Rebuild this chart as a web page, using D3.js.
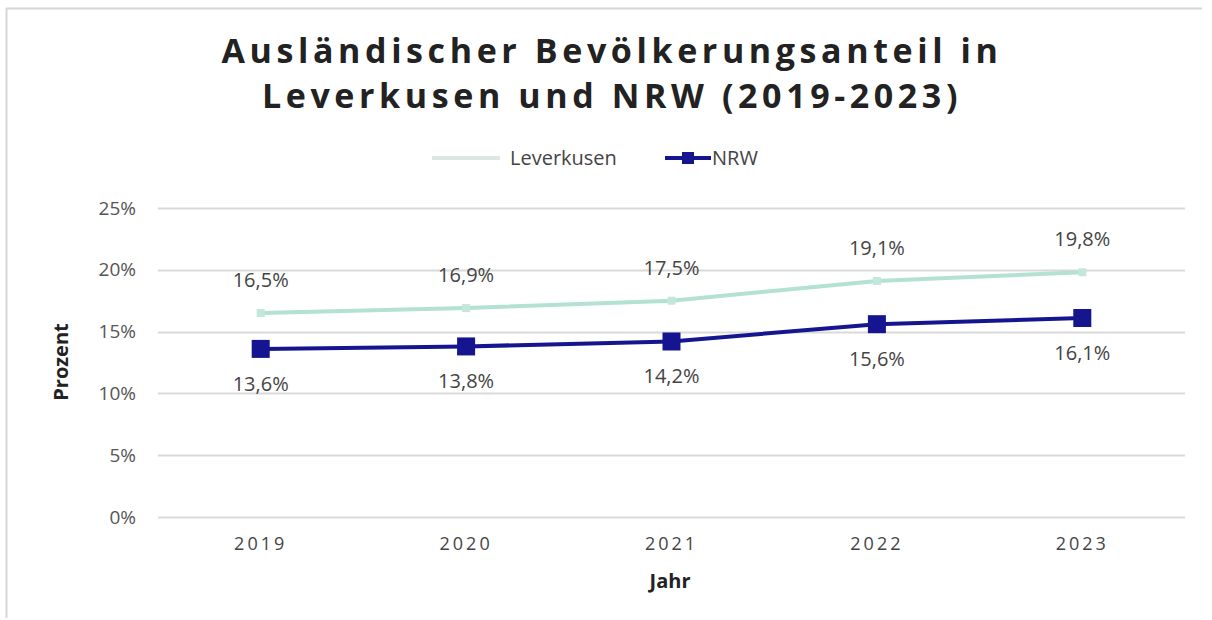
<!DOCTYPE html>
<html>
<head>
<meta charset="utf-8">
<script src="https://cdn.jsdelivr.net/npm/d3@7"></script>
<style>
  body { margin: 0; background: #fff; }
  svg { display: block; font-family: "Open Sans", "DejaVu Sans", sans-serif; }
</style>
</head>
<body>
<svg id="chart"></svg>
<script>
// data
var years = ['2019', '2020', '2021', '2022', '2023'];
var leverkusen = [16.5, 16.9, 17.5, 19.1, 19.8];
var nrw = [13.6, 13.8, 14.2, 15.6, 16.1];
var yTicks = [0, 5, 10, 15, 20, 25];
var titleLines = ['Ausländischer Bevölkerungsanteil in', 'Leverkusen und NRW (2019-2023)'];

var width = 1212, height = 620;
var margin = {top: 208, right: 27, bottom: 103, left: 158};
var chartW = width - margin.left - margin.right;
var chartH = height - margin.top - margin.bottom;

var colLev = '#b3e2d1', colNrw = '#15168f';

var svg = d3.select('#chart').attr('width', width).attr('height', height);

// frame
svg.append('line').attr('x1', 6).attr('x2', 1202).attr('y1', 8.5).attr('y2', 8.5)
  .style('stroke', '#d6d6d6').style('stroke-width', 2);
svg.append('line').attr('x1', 6.5).attr('x2', 6.5).attr('y1', 8).attr('y2', 618)
  .style('stroke', '#d6d6d6').style('stroke-width', 2);

// title
svg.append('g').selectAll('text').data(titleLines).enter().append('text')
  .attr('x', 612).attr('y', function(d, i){ return 63 + i * 45; })
  .attr('text-anchor', 'middle')
  .style('font-size', '34px').style('font-weight', 700)
  .style('letter-spacing', '4.6px').style('fill', '#222')
  .text(function(d){ return d; });

var x = d3.scaleBand().domain(years).range([0, chartW]);
var y = d3.scaleLinear().domain([0, 25]).range([chartH, 0]);

var g = svg.append('g').attr('transform', 'translate(' + margin.left + ',' + margin.top + ')');

// grid
g.append('g').selectAll('line').data(yTicks).enter().append('line')
  .attr('x1', 0).attr('x2', chartW)
  .attr('y1', function(d){ return Math.round(y(d)) + 0.5; })
  .attr('y2', function(d){ return Math.round(y(d)) + 0.5; })
  .style('stroke', '#d9d9d9').style('stroke-width', 2);

// y axis
var axisY = d3.axisLeft(y).tickValues(yTicks).tickSize(0).tickPadding(22)
  .tickFormat(function(d){ return d + '%'; });
g.append('g').call(axisY)
  .call(function(s){ s.select('.domain').remove(); })
  .selectAll('text').style('font-size', '19px').style('fill', '#555')
  .style('font-family', '"Open Sans", sans-serif');

// x axis
var axisX = d3.axisBottom(x).tickSize(0).tickPadding(20);
g.append('g').attr('transform', 'translate(0,' + chartH + ')').call(axisX)
  .call(function(s){ s.select('.domain').remove(); })
  .selectAll('text').style('font-size', '18px').style('fill', '#444')
  .style('letter-spacing', '3px')
  .style('font-family', '"Open Sans", sans-serif');

// axis titles
svg.append('text').attr('x', 670).attr('y', 588).attr('text-anchor', 'middle')
  .style('font-size', '20px').style('font-weight', 700).style('fill', '#222')
  .text('Jahr');
svg.append('text').attr('transform', 'translate(68,362) rotate(-90)')
  .attr('text-anchor', 'middle')
  .style('font-size', '20px').style('font-weight', 700).style('fill', '#222')
  .text('Prozent');

var cx = function(i){ return x(years[i]) + x.bandwidth() / 2; };
var line = d3.line().x(function(d, i){ return cx(i); }).y(function(d){ return y(d); });

// Leverkusen
g.append('path').datum(leverkusen).attr('d', line)
  .style('fill', 'none').style('stroke', colLev).style('stroke-width', 4);
g.append('g').selectAll('rect').data(leverkusen).enter().append('rect')
  .attr('x', function(d, i){ return cx(i) - 4; }).attr('y', function(d){ return y(d) - 4; })
  .attr('width', 8).attr('height', 8).style('fill', '#c3e7da');
g.append('g').selectAll('text').data(leverkusen).enter().append('text')
  .attr('x', function(d, i){ return cx(i); }).attr('y', function(d){ return y(d) - 26; })
  .attr('text-anchor', 'middle').style('font-size', '20px').style('fill', '#444')
  .text(function(d){ return d.toFixed(1).replace('.', ',') + '%'; });

// NRW
g.append('path').datum(nrw).attr('d', line)
  .style('fill', 'none').style('stroke', colNrw).style('stroke-width', 4);
g.append('g').selectAll('rect').data(nrw).enter().append('rect')
  .attr('x', function(d, i){ return cx(i) - 9; }).attr('y', function(d){ return y(d) - 9; })
  .attr('width', 18).attr('height', 18).style('fill', colNrw);
g.append('g').selectAll('text').data(nrw).enter().append('text')
  .attr('x', function(d, i){ return cx(i); }).attr('y', function(d){ return y(d) + 42; })
  .attr('text-anchor', 'middle').style('font-size', '20px').style('fill', '#444')
  .text(function(d){ return d.toFixed(1).replace('.', ',') + '%'; });

// legend
var leg = svg.append('g');
leg.append('line').attr('x1', 432).attr('x2', 500).attr('y1', 158).attr('y2', 158)
  .style('stroke', '#dde8e4').style('stroke-width', 4);
leg.append('text').attr('x', 510).attr('y', 165).style('font-size', '20px').style('fill', '#444')
  .text('Leverkusen');
leg.append('line').attr('x1', 665).attr('x2', 711).attr('y1', 158).attr('y2', 158)
  .style('stroke', colNrw).style('stroke-width', 4);
leg.append('rect').attr('x', 682).attr('y', 152).attr('width', 12).attr('height', 12)
  .style('fill', colNrw);
leg.append('text').attr('x', 712).attr('y', 165).style('font-size', '20px').style('fill', '#444')
  .text('NRW');
</script>
</body>
</html>
